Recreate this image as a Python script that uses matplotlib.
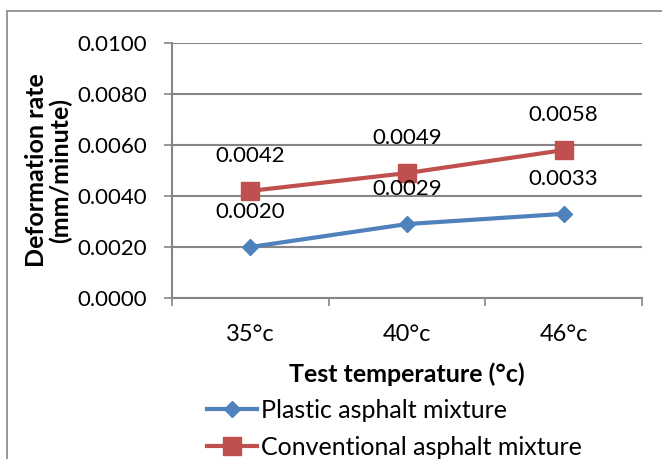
import numpy as np
import matplotlib.pyplot as plt
from matplotlib.patches import Rectangle

# --- datos --- #
categorias = ["35°c", "40°c", "46°c"]
plastico = [0.0020, 0.0029, 0.0033]
convencional = [0.0042, 0.0049, 0.0058]
etiq_plastico = ["0.0020", "0.0029", "0.0033"]
etiq_convencional = ["0.0042", "0.0049", "0.0058"]
y_ticks = [0.0, 0.002, 0.004, 0.006, 0.008, 0.010]

azul = "#4F81BD"
rojo = "#C0504D"
gris = "#868686"

plt.rcParams['font.family'] = ['Lato', 'DejaVu Sans']
fs_num = 16   # numeros
fs_cat = 17   # categorias
fs_tit = 18   # titulos de ejes y leyenda

fig = plt.figure(figsize=(6.62, 4.59), dpi=100)
ax = fig.add_axes([172/662, 1-298/459, 470/662, 255/459])

# marco exterior del grafico
fig.patches.append(Rectangle((7/662, -0.1), 1.2, 1 - 11/459 + 0.1, transform=fig.transFigure,
                             fill=False, edgecolor=gris, linewidth=1.2))

x = np.arange(len(categorias))
ax.plot(x, plastico, color=azul, lw=3, marker="D", ms=8.5, label="Plastic asphalt mixture")
ax.plot(x, convencional, color=rojo, lw=3, marker="s", ms=12.5, label="Conventional asphalt mixture")

for i in range(len(x)):
    ax.annotate(etiq_plastico[i], (x[i], plastico[i]), xytext=(0, 25), textcoords="offset points",
                ha="center", va="center", fontsize=fs_num)
    ax.annotate(etiq_convencional[i], (x[i], convencional[i]), xytext=(0, 25), textcoords="offset points",
                ha="center", va="center", fontsize=fs_num)

ax.set_xlim(-0.5, 2.5)
ax.set_ylim(0, 0.010)
ax.set_yticks(y_ticks)
ax.set_yticklabels(["%.4f" % v for v in y_ticks], fontsize=fs_num)
ax.yaxis.grid(True, color=gris, lw=1.5)
ax.set_axisbelow(True)

ax.set_xticks([-0.5, 0.5, 1.5, 2.5])
ax.set_xticklabels([])
ax.set_xticks(x, minor=True)
ax.set_xticklabels(categorias, minor=True, fontsize=fs_cat)
ax.tick_params(axis="x", which="minor", length=0, pad=19)
ax.tick_params(axis="x", which="major", length=6, color=gris, width=1.2)
ax.tick_params(axis="y", length=6, color=gris, width=1.2, pad=12)

for s in ["top", "right"]:
    ax.spines[s].set_visible(False)
for s in ["left", "bottom"]:
    ax.spines[s].set_color(gris)
    ax.spines[s].set_linewidth(1.5)

ax.set_ylabel("Deformation rate\n(mm/minute)", fontsize=fs_tit, fontweight="bold", linespacing=1.05)
ax.yaxis.set_label_coords(-100/470, 0.5)
ax.set_xlabel("Test temperature (°c)", fontsize=fs_tit, fontweight="bold")
ax.xaxis.set_label_coords(0.5, -64/255)

fig.legend(loc="upper left", bbox_to_anchor=(207/662, 1-399/459), frameon=False, fontsize=fs_tit,
           handlelength=2.0, handletextpad=0.15, labelspacing=0.55, borderpad=0, borderaxespad=0)

fig.savefig("out.png", dpi=100)
